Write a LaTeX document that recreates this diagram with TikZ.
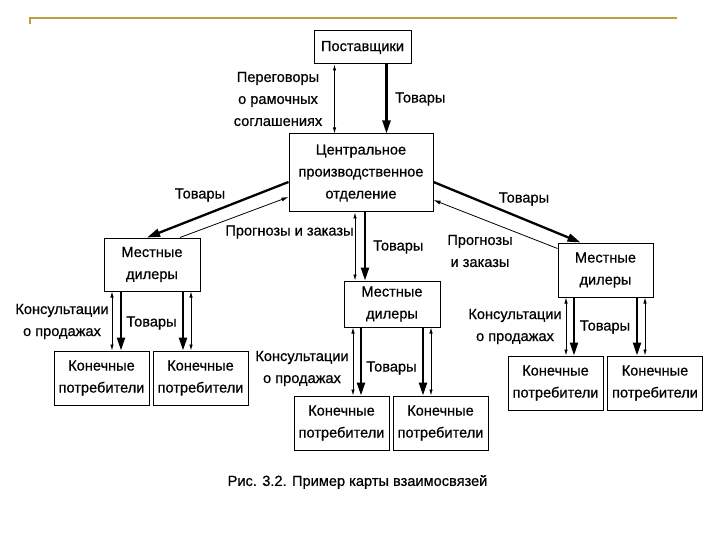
\documentclass[tikz,border=0pt]{standalone}
\usepackage{fontspec}
\setmainfont{Liberation Sans}[FakeBold=0.6]
\usetikzlibrary{arrows.meta}
\definecolor{rulegold}{RGB}{182,162,62}

\begin{document}
\begin{tikzpicture}
    [x=1pt,y=-1pt,
     every node/.style={font=\fontsize{14.6}{22}\selectfont, align=center, inner sep=1pt},
     box/.style={draw, line width=1pt, minimum width=95pt, minimum height=54pt},
     goods/.style={line width=2.3pt, -{Triangle[length=13pt,width=8pt]}},
     info/.style={line width=0.8pt, {Latex[length=6pt,width=3.5pt]}-{Latex[length=6pt,width=3.5pt]}},
     back/.style={line width=0.8pt, -{Latex[length=7pt,width=4pt]}}]
    \useasboundingbox (0,0) rectangle (720,540);
    \draw[rulegold, line width=2pt] (30,24) -- (30,18) -- (677,18);
    \node[box, minimum width=97pt, minimum height=33pt] (sup) at (362.5, 47.5) {Поставщики};
    \node[box, minimum width=144pt, minimum height=78pt] (cen) at (361, 173) {Центральное\\производственное\\отделение};
    \node[box, minimum width=96pt, minimum height=53pt] (dl) at (152, 264.5) {Местные\\дилеры};
    \node[box, minimum width=96pt, minimum height=46pt] (dm) at (392, 304) {Местные\\дилеры};
    \node[box, minimum width=95pt, minimum height=54pt] (dr) at (605.5, 270) {Местные\\дилеры};
    \node[box] (cl1) at (101.5, 378) {Конечные\\потребители};
    \node[box] (cl2) at (200.5, 378) {Конечные\\потребители};
    \node[box] (cm1) at (341.5, 423) {Конечные\\потребители};
    \node[box] (cm2) at (440.5, 423) {Конечные\\потребители};
    \node[box] (cr1) at (555.5, 383) {Конечные\\потребители};
    \node[box] (cr2) at (655, 383) {Конечные\\потребители};
    % suppliers
    \draw[info] ([xshift=-28pt]sup.south) -- ([xshift=-28pt]sup.south |- cen.north);
    \draw[goods] ([xshift=24pt]sup.south) -- ([xshift=24pt]sup.south |- cen.north);
    \node (neg) at (278, 99) {Переговоры\\о рамочных\\соглашениях};
    \node[anchor=west] (g0) at (394, 99) {Товары};
    % central to dealers
    \draw[goods] ([yshift=-9pt]cen.west) -- ([xshift=-5pt]dl.north);
    \draw[back] ([xshift=28pt]dl.north) -- ([yshift=-24pt]cen.west);
    \node (g1) at (200, 195) {Товары};
    \node (f1) at (289.5, 232) {Прогнозы и заказы};
    \draw[info] ([xshift=-6pt]cen.south) -- ([xshift=-6pt]cen.south |- dm.north);
    \draw[goods] ([xshift=4pt]cen.south) -- ([xshift=4pt]cen.south |- dm.north);
    \node[anchor=west] (g2) at (372, 247) {Товары};
    \draw[goods] ([yshift=-9pt]cen.east) -- ([xshift=-25pt]dr.north);
    \draw[back] ([yshift=-6pt]dr.north west) -- ([yshift=-27pt]cen.east);
    \node (g3) at (524, 199) {Товары};
    \node (f3) at (480, 251) {Прогнозы\\и заказы};
    % left dealers
    \draw[info] ([xshift=-40pt]dl.south) -- ([xshift=-40pt]dl.south |- cl1.north);
    \draw[goods] ([xshift=-31pt]dl.south) -- ([xshift=-31pt]dl.south |- cl1.north);
    \draw[goods] ([xshift=31pt]dl.south) -- ([xshift=31pt]dl.south |- cl2.north);
    \draw[info] ([xshift=39pt]dl.south) -- ([xshift=39pt]dl.south |- cl2.north);
    \node (s1) at (62, 321.5) {Консультации\\о продажах};
    \node (g4) at (151.5, 323) {Товары};
    % middle dealers
    \draw[info] ([xshift=-39pt]dm.south) -- ([xshift=-39pt]dm.south |- cm1.north);
    \draw[goods] ([xshift=-31pt]dm.south) -- ([xshift=-31pt]dm.south |- cm1.north);
    \draw[goods] ([xshift=31pt]dm.south) -- ([xshift=31pt]dm.south |- cm2.north);
    \draw[info] ([xshift=39pt]dm.south) -- ([xshift=39pt]dm.south |- cm2.north);
    \node (s2) at (302, 368.5) {Консультации\\о продажах};
    \node (g5) at (391.5, 368) {Товары};
    % right dealers
    \draw[info] ([xshift=-39.5pt]dr.south) -- ([xshift=-39.5pt]dr.south |- cr1.north);
    \draw[goods] ([xshift=-31.5pt]dr.south) -- ([xshift=-31.5pt]dr.south |- cr1.north);
    \draw[goods] ([xshift=31.5pt]dr.south) -- ([xshift=31.5pt]dr.south |- cr2.north);
    \draw[info] ([xshift=39.5pt]dr.south) -- ([xshift=39.5pt]dr.south |- cr2.north);
    \node (s3) at (515, 326.5) {Консультации\\о продажах};
    \node (g6) at (605, 327) {Товары};
    \node (cap) at (357.5, 482) {Рис. 3.2. Пример карты взаимосвязей};
  \end{tikzpicture}
\end{document}
